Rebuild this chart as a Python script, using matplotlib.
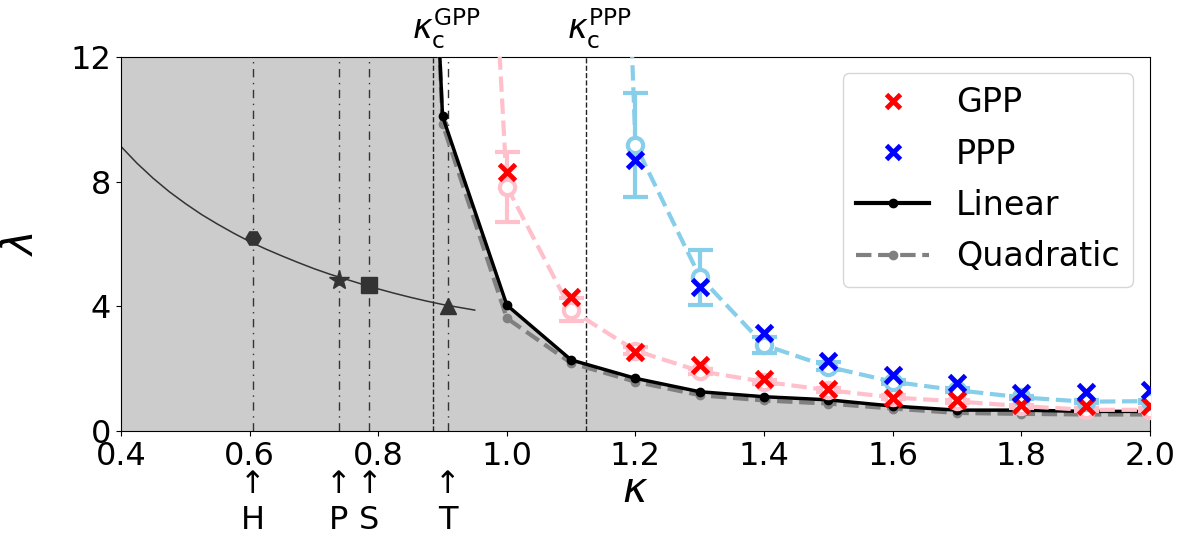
import matplotlib
matplotlib.use('Agg')
import matplotlib.pyplot as plt
import numpy as np
from matplotlib.lines import Line2D
from matplotlib.transforms import blended_transform_factory

# ---- data ----
kappa_grid = [0.9, 1.0, 1.1, 1.2, 1.3, 1.4, 1.5, 1.6, 1.7, 1.8, 1.9, 2.0]

lin_k = [0.885] + kappa_grid
lin_l = [17.0, 10.1, 4.04, 2.28, 1.69, 1.26, 1.10, 1.00, 0.80, 0.67, 0.67, 0.63, 0.63]
quad_k = [0.885] + kappa_grid
quad_l = [17.0, 9.85, 3.62, 2.18, 1.58, 1.15, 0.98, 0.88, 0.72, 0.58, 0.55, 0.53, 0.53]

gpp_k = [1.0, 1.1, 1.2, 1.3, 1.4, 1.5, 1.6, 1.7, 1.8, 1.9, 2.0]
gpp_x = [8.30, 4.31, 2.55, 2.12, 1.66, 1.35, 1.05, 1.01, 0.83, 0.80, 0.80]
gpp_mean = [7.84, 3.88, 2.58, 1.92, 1.58, 1.31, 1.08, 0.95, 0.80, 0.68, 0.68]
gpp_lo = [6.72, 3.54, 2.48, 1.84, 1.52, 1.25, 1.02, 0.90, 0.75, 0.63, 0.63]
gpp_hi = [8.96, 4.27, 2.68, 2.00, 1.64, 1.37, 1.14, 1.00, 0.85, 0.73, 0.73]
gpp_fit_k = [0.985] + gpp_k
gpp_fit_l = [13.5] + gpp_mean

ppp_k = [1.2, 1.3, 1.4, 1.5, 1.6, 1.7, 1.8, 1.9, 2.0]
ppp_x = [8.70, 4.63, 3.13, 2.24, 1.80, 1.53, 1.23, 1.26, 1.31]
ppp_mean = [9.18, 4.95, 2.76, 2.06, 1.58, 1.31, 1.08, 0.94, 0.96]
ppp_lo = [7.52, 4.04, 2.50, 1.95, 1.51, 1.25, 1.03, 0.89, 0.91]
ppp_hi = [10.83, 5.81, 3.03, 2.20, 1.65, 1.37, 1.13, 0.99, 1.01]
ppp_fit_k = [1.19] + ppp_k
ppp_fit_l = [14.7] + ppp_mean

# thin curve on the left and the four marked points
side_k = [0.400, 0.425, 0.450, 0.475, 0.500, 0.525, 0.550, 0.575, 0.600, 0.625,
          0.650, 0.675, 0.700, 0.725, 0.750, 0.775, 0.800, 0.825, 0.850, 0.875,
          0.900, 0.925, 0.950]
side_l = [9.13, 8.59, 8.11, 7.68, 7.30, 6.95, 6.64, 6.35, 6.08, 5.84,
          5.62, 5.41, 5.21, 5.03, 4.87, 4.71, 4.56, 4.42, 4.29, 4.17,
          4.06, 3.97, 3.88]
pt_names = ['H', 'P', 'S', 'T']
pt_k = [0.605, 0.739, 0.786, 0.908]
pt_l = [6.18, 4.84, 4.70, 4.02]
pt_markers = ['H', '*', 's', '^']

kc_names = ['GPP', 'PPP']
kc_vals = [0.885, 1.123]

# ---- figure ----
plt.rcParams['font.size'] = 23
fig = plt.figure(figsize=(11.86, 5.41), dpi=100)
ax = fig.add_axes([0.102, 0.2033, 0.8676, 0.6913])

fill_k = [0.4] + lin_k
fill_l = [lin_l[0]] + lin_l
ax.fill_between(fill_k, 0, fill_l, color='#cccccc', lw=0, zorder=0)

for k in pt_k:
    ax.axvline(k, color='#333333', lw=1, ls=(0, (6, 4, 1, 4)), zorder=1)
for k in kc_vals:
    ax.axvline(k, color='#222222', lw=1, ls='--', zorder=1)

ax.plot(side_k, side_l, color='#333333', lw=1.1, zorder=2)
for k, l, m in zip(pt_k, pt_l, pt_markers):
    ms = 15 if m == '*' else 11
    ax.plot(k, l, marker=m, ms=ms, color='#333333', ls='none', zorder=3)

ax.plot(quad_k, quad_l, color='gray', lw=3, ls='--', marker='o', ms=6, zorder=3)
ax.plot(lin_k, lin_l, color='black', lw=2.5, marker='o', ms=6, zorder=4)

ax.plot(gpp_fit_k, gpp_fit_l, color='pink', lw=3, ls='--', zorder=5)
ax.errorbar(gpp_k, gpp_mean,
            yerr=[np.subtract(gpp_mean, gpp_lo), np.subtract(gpp_hi, gpp_mean)],
            fmt='o', ms=11, mfc='white', mec='pink', mew=3, ecolor='pink',
            elinewidth=3, capsize=9, capthick=3, zorder=5)
ax.plot(ppp_fit_k, ppp_fit_l, color='skyblue', lw=3, ls='--', zorder=5)
ax.errorbar(ppp_k, ppp_mean,
            yerr=[np.subtract(ppp_mean, ppp_lo), np.subtract(ppp_hi, ppp_mean)],
            fmt='o', ms=11, mfc='white', mec='skyblue', mew=3, ecolor='skyblue',
            elinewidth=3, capsize=9, capthick=3, zorder=5)

ax.plot(gpp_k, gpp_x, 'x', color='red', ms=11, mew=3.5, zorder=6)
ax.plot(ppp_k, ppp_x, 'x', color='blue', ms=11, mew=3.5, zorder=6)

ax.set_xlim(0.4, 2.0)
ax.set_ylim(0, 12)
ax.set_xticks(np.arange(0.4, 2.01, 0.2))
ax.set_xticklabels([f'{v:.1f}' for v in np.arange(0.4, 2.01, 0.2)])
ax.set_yticks([0, 4, 8, 12])
ax.tick_params(labelsize=23)
ax.set_xlabel(r'$\kappa$', fontsize=30, labelpad=-2)
ax.set_ylabel(r'$\lambda$', fontsize=30, labelpad=20)

trans = blended_transform_factory(ax.transData, ax.transAxes)
for name, k in zip(pt_names, pt_k):
    ax.text(k, -0.143, '\u2191', transform=trans, ha='center', va='center', fontsize=22)
    ax.text(k, -0.240, name, transform=trans, ha='center', va='center', fontsize=23)
for name, k in zip(kc_names, kc_vals):
    ax.text(k + 0.021, 1.015, r'$\kappa_{\mathrm{c}}^{\mathrm{%s}}$' % name, transform=trans,
            ha='center', va='bottom', fontsize=24)

handles = [
    Line2D([], [], ls='none', marker='x', color='red', ms=10, mew=3.5),
    Line2D([], [], ls='none', marker='x', color='blue', ms=10, mew=3.5),
    Line2D([], [], color='black', lw=3, marker='o', ms=6),
    Line2D([], [], color='gray', lw=3, ls='--', marker='o', ms=6),
]
ax.legend(handles, ['GPP', 'PPP', 'Linear', 'Quadratic'], loc='upper right',
          fontsize=24, bbox_to_anchor=(0.9835, 0.957), borderaxespad=0,
          labelspacing=0.55, handlelength=2.2)

fig.savefig('out.png', dpi=100)
